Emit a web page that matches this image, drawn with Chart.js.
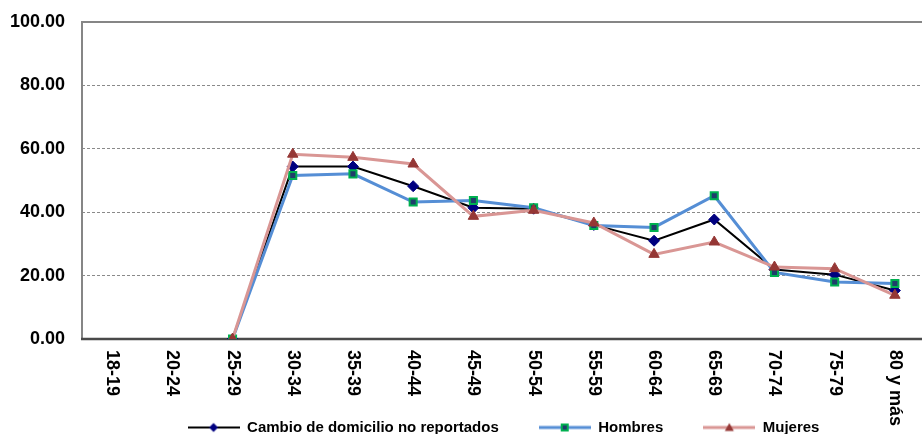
<!DOCTYPE html>
<html>
<head>
<meta charset="utf-8">
<script src="https://cdn.jsdelivr.net/npm/chart.js@4"></script>
<style>
html,body{margin:0;padding:0;overflow:hidden;background:#fff;}
#wrap{position:absolute;left:0;top:0;width:932px;height:445px;}
</style>
</head>
<body>
<div id="wrap"><canvas id="c"></canvas></div>
<script>
const categories = ['18-19','20-24','25-29','30-34','35-39','40-44','45-49','50-54','55-59','60-64','65-69','70-74','75-79','80 y más'];
const cambio  = [null, null, 0, 54.4, 54.4, 48.2, 41.4, 41.1, 36.0, 31.0, 37.7, 21.9, 20.3, 15.3];
const hombres = [null, null, 0, 51.6, 52.1, 43.2, 43.7, 41.4, 35.8, 35.2, 45.2, 21.0, 18.0, 17.5];
const mujeres = [null, null, 0, 58.3, 57.3, 55.2, 38.7, 40.6, 36.6, 26.7, 30.6, 22.7, 22.2, 13.8];
const seriesNames = ['Cambio de domicilio no reportados', 'Hombres', 'Mujeres'];
const yTicks = [0, 20, 40, 60, 80, 100];

const FONT = '"Liberation Sans", Arial, sans-serif';

function makeIcon(lineColor, lineW, kind) {
  const c = document.createElement('canvas');
  c.width = 52; c.height = 14;
  const g = c.getContext('2d');
  g.strokeStyle = lineColor; g.lineWidth = lineW;
  g.beginPath(); g.moveTo(0, 7); g.lineTo(52, 7); g.stroke();
  const x = 26, y = 7;
  if (kind === 'diamond') {
    g.fillStyle = '#000080';
    g.beginPath(); g.moveTo(x, y-4.5); g.lineTo(x+4.5, y); g.lineTo(x, y+4.5); g.lineTo(x-4.5, y); g.closePath(); g.fill();
  } else if (kind === 'square') {
    g.fillStyle = '#00B050'; g.fillRect(x-4, y-4, 8, 8);
    g.fillStyle = '#1F3D6B'; g.fillRect(x-2, y-2, 4, 4);
  } else {
    g.fillStyle = '#953735';
    g.beginPath(); g.moveTo(x, y-4.5); g.lineTo(x+4.5, y+3.5); g.lineTo(x-4.5, y+3.5); g.closePath(); g.fill();
  }
  return c;
}
const icons = [
  makeIcon('#000000', 2, 'diamond'),
  makeIcon('#558ED5', 3, 'square'),
  makeIcon('#D99694', 3, 'triangle')
];

const framePlugin = {
  id: 'framePlugin',
  beforeDatasetsDraw(chart) {
    const {ctx, chartArea: a} = chart;
    ctx.save();
    ctx.strokeStyle = '#868686';
    ctx.lineWidth = 2;
    ctx.beginPath();
    ctx.moveTo(a.left, a.bottom); ctx.lineTo(a.left, a.top); ctx.lineTo(a.right, a.top); ctx.lineTo(a.right, a.bottom);
    ctx.stroke();
    ctx.strokeStyle = '#4a4a4a';
    ctx.lineWidth = 2.5;
    ctx.beginPath(); ctx.moveTo(a.left - 1, a.bottom); ctx.lineTo(a.right, a.bottom); ctx.stroke();
    ctx.restore();
  },
  afterDraw(chart) {
    const {ctx, chartArea: a} = chart;
    const xs = chart.scales.x;
    ctx.save();
    ctx.font = 'bold 18px ' + FONT;
    ctx.fillStyle = '#000';
    ctx.textAlign = 'left';
    ctx.textBaseline = 'middle';
    categories.forEach((lab, i) => {
      const x = xs.getPixelForValue(i);
      ctx.save();
      ctx.translate(x, a.bottom + 11);
      ctx.rotate(Math.PI / 2);
      ctx.fillText(lab, 0, 0);
      ctx.restore();
    });
    ctx.restore();
  }
};

new Chart(document.getElementById('c'), {
  type: 'line',
  data: {
    labels: categories,
    datasets: [
      {
        label: seriesNames[0], data: cambio,
        borderColor: '#000000', borderWidth: 2,
        pointStyle: 'rectRot', pointRadius: 5.5, pointBackgroundColor: '#000080', pointBorderColor: '#000080', pointBorderWidth: 1,
        tension: 0, order: 3
      },
      {
        label: seriesNames[1], data: hombres,
        borderColor: '#558ED5', borderWidth: 3,
        pointStyle: 'rect', pointRadius: 5, pointBackgroundColor: '#1F3D6B', pointBorderColor: '#00B050', pointBorderWidth: 2,
        tension: 0, order: 2
      },
      {
        label: seriesNames[2], data: mujeres,
        borderColor: '#D99694', borderWidth: 3,
        pointStyle: 'triangle', pointRadius: 6, pointBackgroundColor: '#953735', pointBorderColor: '#953735', pointBorderWidth: 1,
        tension: 0, order: 1
      }
    ]
  },
  options: {
    responsive: true,
    maintainAspectRatio: false,
    animation: false,
    layout: { padding: { top: 22, right: 1, left: 0, bottom: 0 } },
    plugins: {
      tooltip: { enabled: false },
      legend: {
        position: 'bottom',
        fullSize: false,
        labels: {
          usePointStyle: true,
          pointStyleWidth: 52,
          padding: 40,
          color: '#000',
          font: { family: FONT, size: 15, weight: 'bold' },
          generateLabels(chart) {
            return chart.data.datasets.map((ds, i) => ({
              text: ds.label,
              pointStyle: icons[i],
              datasetIndex: i,
              hidden: !chart.isDatasetVisible(i),
              fillStyle: 'transparent',
              strokeStyle: 'transparent',
              lineWidth: 0,
              fontColor: '#000'
            }));
          }
        }
      }
    },
    scales: {
      x: {
        type: 'category',
        offset: true,
        grid: { display: false, drawTicks: false },
        border: { display: false },
        ticks: { display: false },
        afterFit(scale) { scale.height = 41; }
      },
      y: {
        min: 0, max: 100,
        afterBuildTicks(scale) { scale.ticks = yTicks.map(v => ({ value: v })); },
        grid: {
          drawTicks: false,
          color: ctx => (ctx.tick && (ctx.tick.value === 0 || ctx.tick.value === 100)) ? 'rgba(0,0,0,0)' : '#8a8a8a',
          lineWidth: 1
        },
        border: { display: false, dash: [3, 2] },
        ticks: {
          padding: 17,
          color: '#000',
          font: { family: FONT, size: 18, weight: 'bold' },
          callback: v => Number(v).toFixed(2)
        },
        afterFit(scale) { scale.width = 82; scale.paddingTop = 0; scale.paddingBottom = 0; }
      }
    }
  },
  plugins: [framePlugin]
});
</script>
</body>
</html>
